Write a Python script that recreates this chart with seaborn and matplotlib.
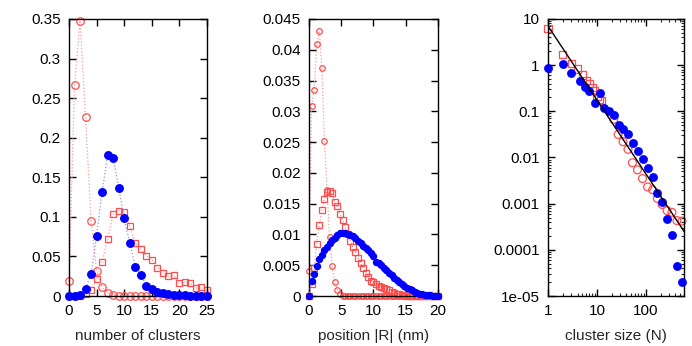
import numpy as np
import matplotlib
matplotlib.use("Agg")
import matplotlib.pyplot as plt
import seaborn as sns
from matplotlib.ticker import FuncFormatter, LogLocator, NullFormatter

# panel 1: distribution of the number of clusters
n_clusters = [0, 1, 2, 3, 4, 5, 6, 7, 8, 9, 10, 11, 12, 13, 14, 15, 16, 17, 18, 19, 20, 21, 22, 23, 24, 25]
p1_red_circ = [0.019, 0.266, 0.348, 0.226, 0.095, 0.031, 0.011, 0.004, 0.0017, 0, 0, 0, 0, 0, 0, 0, 0, 0, 0, 0, 0, 0, 0, 0, 0, 0]
p1_red_sq = [0, 0, 0.0005, 0.002, 0.0076, 0.021, 0.043, 0.072, 0.103, 0.108, 0.106, 0.088, 0.067, 0.059, 0.051, 0.046,
             0.036, 0.029, 0.025, 0.026, 0.017, 0.018, 0.016, 0.010, 0.011, 0.007]
p1_blue = [0, 0, 0.001, 0.009, 0.028, 0.076, 0.132, 0.178, 0.174, 0.137, 0.098, 0.067, 0.037, 0.027, 0.013, 0.009,
           0.0055, 0.004, 0.003, 0.0015, 0.001, 0.0008, 0.0005, 0.0003, 0.0002, 0.0001]

# panel 2: radial position distribution
pos_r = [0.0, 0.4, 0.8, 1.2, 1.6, 2.0, 2.4, 2.8, 3.2, 3.6, 4.0, 4.4, 4.8, 5.2, 5.6, 6.0, 6.4, 6.8, 7.2, 7.6, 8.0,
         8.4, 8.8, 9.2, 9.6, 10.0, 10.4, 10.8, 11.2, 11.6, 12.0, 12.4, 12.8, 13.2, 13.6, 14.0, 14.4, 14.8, 15.2, 15.6,
         16.0, 16.4, 16.8, 17.2, 17.6, 18.0, 18.4, 18.8, 19.2, 19.6, 20.0]
p2_red_circ = [0.0041, 0.0309, 0.0334, 0.0409, 0.0431, 0.037, 0.0251, 0.0173, 0.0096, 0.0048, 0.0022, 0.0010, 0.0004,
               0, 0, 0, 0, 0, 0, 0, 0, 0, 0, 0, 0, 0, 0, 0, 0, 0, 0, 0, 0, 0, 0, 0, 0, 0, 0, 0,
               0, 0, 0, 0, 0, 0, 0, 0, 0, 0, 0]
p2_red_sq = [0, 0.002, 0.0045, 0.0085, 0.0115, 0.0140, 0.0158, 0.0169, 0.0171, 0.0167, 0.0152, 0.0146, 0.0133, 0.0124,
             0.0112, 0.0100, 0.0090, 0.0080, 0.0071, 0.0062, 0.0054, 0.0046, 0.0038, 0.0031, 0.0025, 0.0023, 0.0020,
             0.0017, 0.0015, 0.0013, 0.0011, 0.0009, 0.0007, 0.0005, 0.0004, 0.0003, 0.0002, 0.0001, 0.00005, 0.00002,
             0, 0, 0, 0, 0, 0, 0, 0, 0, 0, 0]
p2_blue = [0, 0.0025, 0.0035, 0.0048, 0.0060, 0.0067, 0.0074, 0.0080, 0.0086, 0.0091, 0.0095, 0.0099, 0.0102, 0.0103,
           0.0103, 0.0101, 0.0099, 0.0097, 0.0094, 0.0090, 0.0086, 0.0082, 0.0078, 0.0074, 0.0070, 0.0065, 0.0055,
           0.0053, 0.0050, 0.0046, 0.0042, 0.0038, 0.0034, 0.0030, 0.0026, 0.0022, 0.0019, 0.0016, 0.0013, 0.0011,
           0.0009, 0.0007, 0.0005, 0.0004, 0.0003, 0.0002, 0.00015, 0.0001, 0.00005, 0.00003, 0]

# panel 3: cluster size distribution (log-log)
sq_size = [1, 2, 3, 4, 5, 6, 7, 8, 9, 10, 11, 12]
sq_prob = [6.3, 1.72, 1.1, 0.82, 0.61, 0.46, 0.40, 0.33, 0.28, 0.21, 0.185, 0.17]
circ_size = [22, 27, 34, 43, 53, 67, 85, 108, 137, 171, 214, 269, 339, 429, 545]
circ_prob = [0.067, 0.0316, 0.022, 0.015, 0.0077, 0.0054, 0.0035, 0.0023, 0.0020, 0.0013, 0.00096, 0.00071,
             0.00065, 0.00043, 0.00042]
blue_size = [1, 2, 3, 4.5, 5.8, 7, 8.9, 11.3, 13.6, 17.3, 22, 27.7, 34, 43, 55, 69, 85, 108, 137, 171, 214, 269,
             339, 429, 545]
blue_prob = [0.85, 1.07, 0.69, 0.46, 0.33, 0.28, 0.148, 0.25, 0.12, 0.1, 0.083, 0.051, 0.041, 0.032, 0.021, 0.0138,
             0.0091, 0.0059, 0.0037, 0.0017, 0.0011, 0.00047, 0.00021, 0.0000457, 0.00002]
fit_size = [1, 600]
fit_prob = [7.0, 2.5e-4]

sns.set_style("ticks")
plt.rcParams['font.family'] = ['Liberation Sans', 'DejaVu Sans']
plt.rcParams['font.size'] = 11

RED = '#ff4d4d'
RED_LINE = '#ff9a9a'
BLUE = '#0000ff'
BLUE_LINE = '#9090ff'

fig = plt.figure(figsize=(6.92, 3.46), dpi=100)
ax1 = fig.add_axes([0.0997, 0.1445, 0.1994, 0.8006])
ax2 = fig.add_axes([0.4465, 0.1445, 0.1864, 0.8006])
ax3 = fig.add_axes([0.792, 0.1445, 0.1965, 0.8006])

gfmt = FuncFormatter(lambda v, p: '%g' % v)


def series(ax, x, y, marker, ms, face, edge, line, z):
    sns.lineplot(x=x, y=y, ax=ax, color=line, linestyle=':', linewidth=0.9, marker=marker, markersize=ms,
                 markerfacecolor=face, markeredgecolor=edge, markeredgewidth=0.9, clip_on=False, zorder=z)


# panel 1
series(ax1, n_clusters, p1_red_circ, 'o', 5.4, 'none', RED, RED_LINE, 2)
series(ax1, n_clusters, p1_red_sq, 's', 5.0, 'none', RED, RED_LINE, 2)
series(ax1, n_clusters, p1_blue, 'o', 5.5, BLUE, BLUE, BLUE_LINE, 3)
ax1.set_xlim(0, 25)
ax1.set_ylim(0, 0.35)
ax1.set_xticks([0, 5, 10, 15, 20, 25])
ax1.set_yticks([0, 0.05, 0.1, 0.15, 0.2, 0.25, 0.3, 0.35])
ax1.set_xlabel('number of clusters')

# panel 2
series(ax2, pos_r, p2_red_circ, 'o', 4.0, 'none', RED, RED_LINE, 2)
series(ax2, pos_r, p2_red_sq, 's', 4.0, 'none', RED, RED_LINE, 2)
series(ax2, pos_r, p2_blue, 'o', 4.4, BLUE, BLUE, BLUE_LINE, 3)
ax2.set_xlim(0, 20)
ax2.set_ylim(0, 0.045)
ax2.set_xticks([0, 5, 10, 15, 20])
ax2.set_yticks(np.round(np.arange(0, 0.0451, 0.005), 3))
ax2.set_xlabel('position |R| (nm)')

# panel 3
sns.scatterplot(x=sq_size, y=sq_prob, ax=ax3, marker='s', s=28, facecolor='none', edgecolor=RED,
                linewidth=0.9, clip_on=False, zorder=2)
sns.scatterplot(x=circ_size, y=circ_prob, ax=ax3, marker='o', s=32, facecolor='none', edgecolor=RED,
                linewidth=0.9, clip_on=False, zorder=2)
sns.scatterplot(x=blue_size, y=blue_prob, ax=ax3, marker='o', s=34, color=BLUE, edgecolor=BLUE,
                linewidth=0.5, clip_on=False, zorder=3)
sns.lineplot(x=fit_size, y=fit_prob, ax=ax3, color='black', linewidth=1.0, zorder=4)
ax3.set_xscale('log')
ax3.set_yscale('log')
ax3.set_xlim(1, 600)
ax3.set_ylim(1e-5, 10)
ax3.set_yticks([1e-5, 1e-4, 1e-3, 1e-2, 1e-1, 1, 10])
ax3.xaxis.set_minor_locator(LogLocator(base=10, subs=np.arange(2, 10)))
ax3.yaxis.set_minor_locator(LogLocator(base=10, subs=np.arange(2, 10)))
ax3.xaxis.set_minor_formatter(NullFormatter())
ax3.yaxis.set_minor_formatter(NullFormatter())
ax3.set_xlabel('cluster size (N)')

for ax in (ax1, ax2, ax3):
    ax.xaxis.set_major_formatter(gfmt)
    ax.yaxis.set_major_formatter(gfmt)
    ax.tick_params(which='major', direction='in', length=5, width=1, top=True, right=True,
                   labelsize=11, colors='black')
    ax.tick_params(axis='x', which='major', pad=6)
    ax.tick_params(axis='y', which='major', pad=6)
    ax.tick_params(which='minor', direction='in', length=2.5, width=0.8, top=True, right=True)
    ax.set_ylabel('')
    ax.xaxis.label.set_size(11)
    ax.xaxis.labelpad = 8
    for sp in ax.spines.values():
        sp.set_linewidth(1.0)
        sp.set_color('black')
        sp.set_visible(True)
    ax.set_facecolor('white')

fig.savefig('out.png', dpi=100)
